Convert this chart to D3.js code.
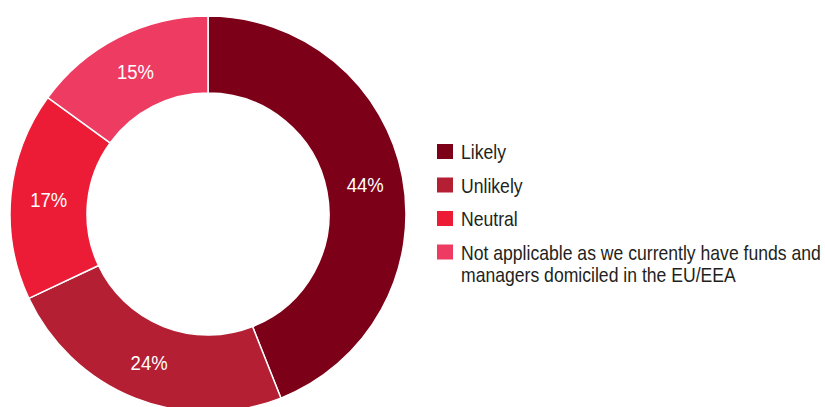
<!DOCTYPE html>
<html>
<head>
<meta charset="utf-8">
<script src="https://cdn.jsdelivr.net/npm/d3@7"></script>
<style>
  html, body { margin: 0; padding: 0; background: #fff; }
  svg { display: block; }
  text { font-family: "Liberation Sans", Arial, sans-serif; }
</style>
</head>
<body>
<svg id="chart" width="825" height="407"></svg>
<script>
// Survey responses: share of respondents per answer
const categories = ["Likely", "Unlikely", "Neutral", "Not applicable as we currently have funds and managers domiciled in the EU/EEA"];
const values = [44, 24, 17, 15];
const colors = ["#7d0019", "#b51f34", "#ec1c37", "#ee3b62"];
const legendLines = [["Likely"], ["Unlikely"], ["Neutral"], ["Not applicable as we currently have funds and", "managers domiciled in the EU/EEA"]];

const svg = d3.select("#chart");
const cx = 208, cy = 214, outerR = 198, innerR = 121;
// condensed look: text is squeezed horizontally
const squeeze = 0.88;

const data = categories.map((c, i) => ({ category: c, value: values[i] }));
const color = d3.scaleOrdinal().domain(categories).range(colors);

const pie = d3.pie().value(d => d.value).sort(null);
const arc = d3.arc().innerRadius(innerR).outerRadius(outerR);
const labelArc = d3.arc().innerRadius(160).outerRadius(160);

const g = svg.append("g").attr("transform", `translate(${cx},${cy})`);
const arcs = pie(data);

g.selectAll("path.slice")
  .data(arcs)
  .join("path")
  .attr("class", "slice")
  .attr("d", arc)
  .attr("fill", d => color(d.data.category))
  .attr("stroke", "#fff")
  .attr("stroke-width", 1.5);

g.selectAll("text.pct")
  .data(arcs)
  .join("text")
  .attr("class", "pct")
  .attr("transform", d => `translate(${labelArc.centroid(d)}) scale(${squeeze},1)`)
  .attr("text-anchor", "middle")
  .attr("dy", "0.36em")
  .attr("fill", "#fff")
  .style("font-size", "21px")
  .text(d => d.data.value + "%");

// Legend
const legend = svg.append("g").attr("transform", "translate(437,144)");
const rowStep = 33.5;
const item = legend.selectAll("g.item")
  .data(categories)
  .join("g")
  .attr("class", "item")
  .attr("transform", (d, i) => `translate(0,${i * rowStep})`);

item.append("rect")
  .attr("width", 16)
  .attr("height", 15)
  .attr("fill", d => color(d));

item.append("g")
  .attr("transform", `translate(24,0) scale(${squeeze},1)`)
  .append("text")
  .attr("y", 15)
  .attr("fill", "#231f20")
  .style("font-size", "20px")
  .selectAll("tspan")
  .data((d, i) => legendLines[i])
  .join("tspan")
  .attr("x", 0)
  .attr("dy", (d, j) => j === 0 ? 0 : 23)
  .text(d => d);
</script>
</body>
</html>
